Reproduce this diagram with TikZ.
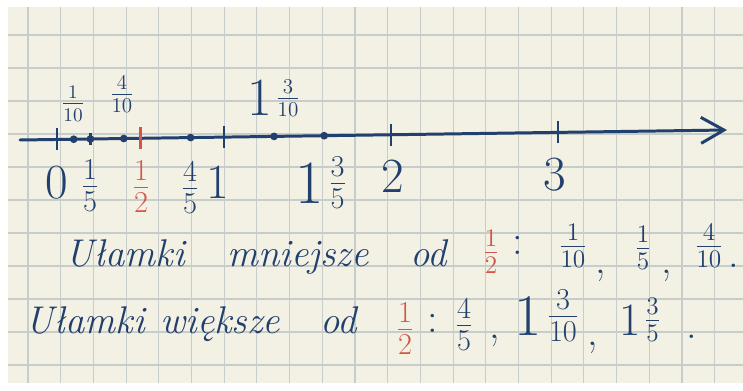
\documentclass[tikz,border=0pt]{standalone}
\usetikzlibrary{arrows.meta,calc}

\definecolor{ink}{HTML}{22406E}
\definecolor{redink}{HTML}{D0564A}
\definecolor{paper}{HTML}{F3F0E4}
\definecolor{gridline}{HTML}{C6CDCB}

% whole number with a small fraction beside it
\newcommand{\mixnum}[4][1.4]{$\vcenter{\hbox{\scalebox{#1}{#2}}}\mkern2mu\frac{#3}{#4}$}

\tikzset{
  numline/.style={ink,line width=1.7pt,line cap=round},
  tickmark/.style={ink,line width=1.5pt},
  intlabel/.style={ink,inner sep=0pt,font=\fontsize{28}{30}\selectfont},
  fraclabel/.style={ink,inner sep=0pt,font=\fontsize{#1}{#1}\selectfont},
  fraclabel/.default=20,
  word/.style={ink,anchor=base west,inner sep=0pt,font=\fontsize{22}{26}\selectfont\itshape},
  punct/.style={ink,anchor=base,inner sep=0pt,font=\fontsize{24}{28}\selectfont},
}

\begin{document}
\begin{tikzpicture}[x=0.02cm,y=-0.02cm]
  \useasboundingbox (0,0) rectangle (743,391);
  \fill[white] (0,0) rectangle (743,391);
  \fill[paper] (8,7) rectangle (743,383);
  \begin{scope}
    \clip (8,7) rectangle (743,383);
    \foreach \gx in {0,...,22}
      \draw[gridline,line width=0.6pt] ({28+32.7*\gx},7) -- ++(0,376);
    \foreach \gy in {0,...,10}
      \draw[gridline,line width=0.6pt] (8,{35+33*\gy}) -- ++(735,0);
  \end{scope}

  % number line
  \coordinate (start) at (20,140);
  \coordinate (end) at (727,130);
  \draw[numline,-{Straight Barb[length=4.6mm,width=5.2mm]}] (start) -- (end);
  \foreach \v in {0,1,2,3}
    \draw[tickmark] ($(start)!{(37+167*\v)/707}!(end)$) +(0,-11) -- +(0,11);
  \draw[tickmark] ($(start)!{(37+167*0.2)/707}!(end)$) +(0,-6) -- +(0,6);
  \draw[tickmark,redink] ($(start)!{(37+167*0.5)/707}!(end)$) +(0,-11) -- +(0,11);
  \foreach \v in {0.1,0.2,0.4,0.8,1.3,1.6}
    \fill[ink] ($(start)!{(37+167*\v)/707}!(end)$) circle (2.2pt);

  % labels above
  \node[fraclabel=16] (ltenth) at (73,104) {$\frac{1}{10}$};
  \node[fraclabel=18] (lfourtenth) at (122,94) {$\frac{4}{10}$};
  \node[fraclabel=17] (lonethreetenth) at (274,98) {\mixnum[1.8]{1}{3}{10}};

  % labels below
  \node[intlabel] (lzero) at (57,183) {0};
  \node[fraclabel=25] (lfifth) at (90,186) {$\frac{1}{5}$};
  \node[fraclabel=25,redink] (lhalf) at (141,187) {$\frac{1}{2}$};
  \node[fraclabel=25] (lfourfifth) at (190,188) {$\frac{4}{5}$};
  \node[intlabel] (lone) at (218,182) {1};
  \node[fraclabel=25] (lonethreefifth) at (321,183) {\mixnum[1.4]{1}{3}{5}};
  \node[intlabel] (ltwo) at (393,176) {2};
  \node[intlabel] (lthree) at (555,175) {3};

  % first sentence
  \node[word] (wa) at (65,267) {Ułamki};
  \node[word] (wb) at (227,267) {mniejsze};
  \node[word] (wc) at (410,267) {od};
  \node[fraclabel=22,redink] (fa) at (491,252) {$\frac{1}{2}$};
  \node[punct] (ca) at (518,255) {:};
  \node[fraclabel=22] (fb) at (573,246) {$\frac{1}{10}$};
  \node[punct] (cb) at (601,274) {,};
  \node[fraclabel=22] (fc) at (643,248) {$\frac{1}{5}$};
  \node[punct] (cc) at (667,274) {,};
  \node[fraclabel=22] (fd) at (709,246) {$\frac{4}{10}$};
  \node[punct] (cd) at (734,268) {.};

  % second sentence
  \node[word] (wd) at (25,333) {Ułamki};
  \node[word] (we) at (160,333) {większe};
  \node[word] (wf) at (320,333) {od};
  \node[fraclabel=25,redink] (fe) at (405,329) {$\frac{1}{2}$};
  \node[punct] (ce) at (433,332) {:};
  \node[fraclabel=24] (ff) at (464,325) {$\frac{4}{5}$};
  \node[punct] (cf) at (495,338) {,};
  \node[fraclabel=24] (fg) at (547,316) {\mixnum[1.4]{1}{3}{10}};
  \node[punct] (cg) at (593,345) {,};
  \node[fraclabel=22] (fh) at (640,320) {\mixnum[1.2]{1}{3}{5}};
  \node[punct] (ch) at (692,338) {.};
\end{tikzpicture}
\end{document}
